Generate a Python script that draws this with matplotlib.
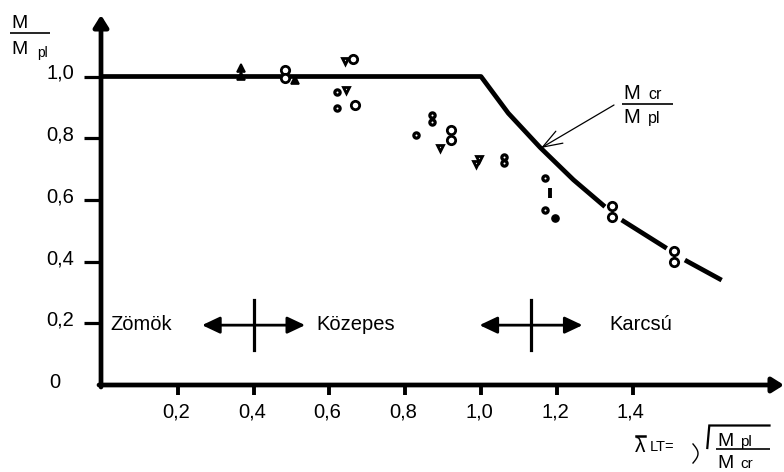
import numpy as np
import matplotlib.pyplot as plt
from matplotlib.patches import ArrowStyle

plt.rcParams['font.family'] = ['Liberation Sans', 'DejaVu Sans']

# --- data ------------------------------------------------------------------
# design curve M/Mpl vs relative slenderness (nan = break around markers)
curve_lam = [0.0, 1.0, 1.072, 1.156, 1.244, 1.327, np.nan, 1.371, 1.490, np.nan, 1.538, 1.635]
curve_m = [1.0, 1.0, 0.881, 0.770, 0.665, 0.578, np.nan, 0.535, 0.443, np.nan, 0.405, 0.340]

# test results, grouped by marker
big_lam = [0.483, 0.483, 0.663, 0.668, 0.922, 0.922, 1.345, 1.345, 1.509, 1.509]
big_m = [1.021, 0.994, 1.057, 0.906, 0.827, 0.794, 0.580, 0.545, 0.435, 0.400]
small_lam = [0.621, 0.621, 0.828, 0.872, 0.872, 1.062, 1.062, 1.169, 1.169]
small_m = [0.951, 0.899, 0.810, 0.874, 0.852, 0.739, 0.720, 0.670, 0.567]
tri_dn_lam = [0.641, 0.644, 0.893, 0.996, 0.988]
tri_dn_m = [1.050, 0.956, 0.767, 0.733, 0.715]
tri_up_lam = [0.368, 0.368, 0.509]
tri_up_m = [1.003, 1.028, 0.989]
dot_lam = [1.194]
dot_m = [0.540]
dash_lam = [1.182, 1.182]
dash_m = [0.605, 0.639]

# slenderness classes
class_names = ['Zömök', 'Közepes', 'Karcsú']
class_label_lam = [0.021, 0.566, 1.340]
class_bounds = [0.4, 1.132]
class_level = 0.194

xticks = [0.2, 0.4, 0.6, 0.8, 1.0, 1.2, 1.4]
xtick_labels = ['0,2', '0,4', '0,6', '0,8', '1,0', '1,2', '1,4']
yticks = [0.2, 0.4, 0.6, 0.8, 1.0]
ytick_labels = ['0,2', '0,4', '0,6', '0,8', '1,0']

# --- layout: reference pixel -> data ----------------------------------------
W, H = 784, 472
X0, Y0 = 102, 385
SX, SY = 379, 308.5
FS = 14.5


def P(x, y):
    return (x - X0) / SX, (Y0 - y) / SY


fig = plt.figure(figsize=(W / 100, H / 100), dpi=100)
ax = fig.add_axes([0, 0, 1, 1])
ax.set_xlim(P(0, 0)[0], P(W, 0)[0])
ax.set_ylim(P(0, H)[1], P(0, 0)[1])
ax.axis('off')

# axes with arrow heads
head = ArrowStyle('-|>', head_length=0.35, head_width=0.22)
ax.annotate('', xy=P(101, 15), xytext=P(101, 387),
            arrowprops=dict(arrowstyle=head, mutation_scale=20, lw=3.4,
                            color='k', shrinkA=0, shrinkB=0))
ax.annotate('', xy=P(784, 385), xytext=P(99, 385),
            arrowprops=dict(arrowstyle=head, mutation_scale=20, lw=3.4,
                            color='k', shrinkA=0, shrinkB=0))

# ticks + labels
tick_len_y = 18 / SX
tick_len_x = 10 / SY
for v, lab in zip(yticks, ytick_labels):
    ax.plot([-tick_len_y, 0], [v, v], color='k', lw=2.3, solid_capstyle='butt')
    ax.text(P(74, 0)[0], v - 0.008, lab, ha='right', va='baseline', fontsize=FS)
ax.text(*P(55, 382), '0', ha='center', va='center', fontsize=FS)
for u, lab in zip(xticks, xtick_labels):
    ax.plot([u, u], [0, -tick_len_x], color='k', lw=2.8, solid_capstyle='butt')
    ax.text(u - 0.005, P(0, 418)[1], lab, ha='center', va='baseline', fontsize=FS)

# design curve
ax.plot(curve_lam, curve_m, color='k', lw=3.4, solid_capstyle='butt',
        solid_joinstyle='round', zorder=3)

# test points
ax.plot(big_lam, big_m, 'o', ms=6.0, mfc='white', mec='k', mew=2.0, zorder=4)
ax.plot(small_lam, small_m, 'o', ms=3.8, mfc='white', mec='k', mew=2.3, zorder=4)
ax.plot(tri_dn_lam, tri_dn_m, 'v', ms=4.8, mfc='white', mec='k', mew=2.0, zorder=4)
ax.plot(tri_up_lam, tri_up_m, '^', ms=5.2, mfc='k', mec='k', mew=1.2, zorder=4)
ax.plot(dot_lam, dot_m, 'o', ms=5.2, mfc='k', mec='k', zorder=4)
ax.plot(dash_lam, dash_m, color='k', lw=2.8, solid_capstyle='butt', zorder=4)

# slenderness classes
dbl = ArrowStyle('<|-|>', head_length=0.36, head_width=0.17)
half = 0.136
for b in class_bounds:
    ax.annotate('', xy=(b + half, class_level), xytext=(b - half, class_level),
                arrowprops=dict(arrowstyle=dbl, mutation_scale=30, lw=2.0,
                                color='k', shrinkA=0, shrinkB=0))
    ax.plot([b, b], [class_level - 0.082, class_level + 0.082], color='k', lw=2.3)
for name, lx in zip(class_names, class_label_lam):
    ax.text(lx, 0.178, name, ha='left', va='baseline', fontsize=FS)


def frac(x_left, y_line, x_right, top_sub, bot_sub, size, sub_size,
         sub_dx, top_base, bot_base, sub_drop=0.0):
    xl, yl = P(x_left, y_line)
    xr, _ = P(x_right, y_line)
    ax.plot([xl, xr], [yl, yl], color='k', lw=1.2, solid_capstyle='butt')
    mx = P(x_left + 1, 0)[0]
    sx = P(x_left + sub_dx, 0)[0]
    ax.text(mx, P(0, top_base)[1], 'M', ha='left', va='baseline', fontsize=size)
    if top_sub:
        ax.text(sx, P(0, top_base + sub_drop)[1], top_sub, ha='left', va='baseline',
                fontsize=sub_size)
    ax.text(mx, P(0, bot_base)[1], 'M', ha='left', va='baseline', fontsize=size)
    if bot_sub:
        ax.text(sx, P(0, bot_base + sub_drop)[1], bot_sub, ha='left', va='baseline',
                fontsize=sub_size)


# y label  M / M_pl
frac(10, 32.7, 50, '', 'pl', 14, 10, 27, 28.5, 53.5, sub_drop=4)

# annotation  M_cr / M_pl with arrow to the curve
frac(622, 104.3, 673, 'cr', 'pl', 14.5, 11.5, 26, 99, 123, sub_drop=0)
ax.annotate('', xy=P(541, 148), xytext=P(614, 105),
            arrowprops=dict(arrowstyle=ArrowStyle('->', head_length=0.7, head_width=0.25),
                            mutation_scale=20, lw=0.9, color='k',
                            shrinkA=0, shrinkB=0))

# x label  lambda_LT = sqrt(M_pl / M_cr)
ax.text(*P(635, 451.7), 'λ', ha='left', va='baseline', fontsize=15)
ax.plot([P(636, 0)[0], P(645, 0)[0]], [P(0, 435.7)[1]] * 2, color='k', lw=1.8)
ax.text(*P(650, 450.7), 'LT=', ha='left', va='baseline', fontsize=10.5)
t = np.linspace(0, np.pi, 30)
hook_x, hook_y = P(693 + 5 * np.sin(t), 444 + 19 * t / np.pi)
ax.plot(hook_x, hook_y, color='k', lw=1.0)
rx, ry = P(np.array([707.3, 709.3, 769.5]), np.array([448, 425.5, 425.5]))
ax.plot(rx, ry, color='k', lw=1.6, solid_joinstyle='miter')
frac(716, 449.3, 769.5, 'pl', 'cr', 14, 11, 24, 445.7, 467.7, sub_drop=0)

fig.savefig('out.png', dpi=100)
